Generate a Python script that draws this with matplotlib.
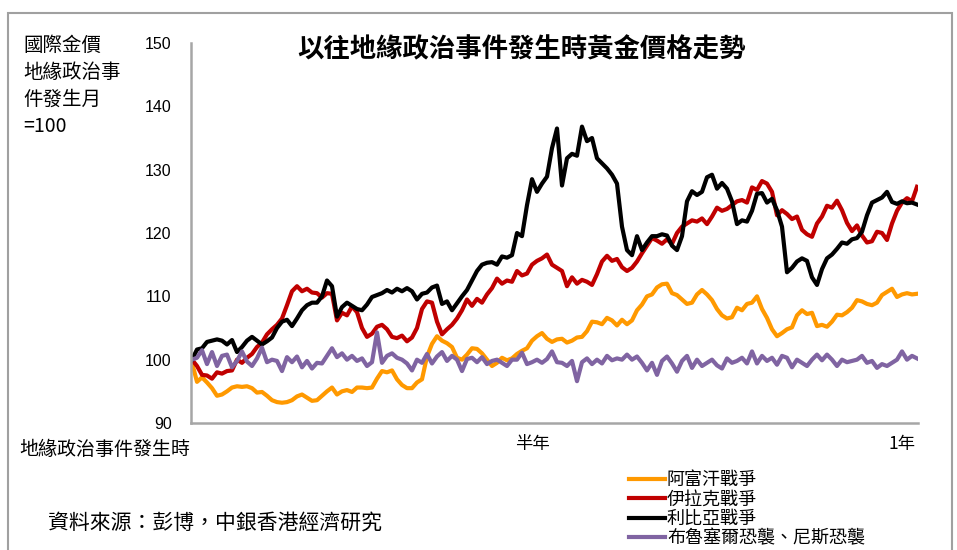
import matplotlib.pyplot as plt
import numpy as np
from matplotlib.patches import Rectangle

plt.rcParams['font.family'] = ['Noto Sans CJK TC', 'DejaVu Sans']

# 以往地緣政治事件發生時金價 (事件發生月=100), 每點約兩個交易日
afghan = [99.5, 96.5, 97.2, 96.4, 95.5, 94.3, 94.5, 95.0, 95.6, 95.8,
          95.7, 95.8, 95.5, 94.8, 94.9, 94.3, 93.6, 93.3, 93.2, 93.3,
          93.6, 94.2, 94.5, 94.0, 93.5, 93.6, 94.3, 95.0, 95.6, 94.5,
          95.0, 95.2, 94.9, 95.6, 95.6, 95.5, 95.6, 97.0, 98.2, 98.0,
          98.3, 96.9, 96.0, 95.5, 95.5, 96.4, 96.9, 100.5, 102.5, 103.7,
          103.0, 102.6, 102.0, 100.3, 100.0, 100.8, 101.8, 101.7, 101.0, 100.0,
          99.0, 99.5, 100.3, 99.9, 100.2, 100.9, 101.4, 101.8, 103.0, 103.7,
          104.2, 103.3, 102.8, 103.2, 103.3, 102.7, 103.0, 103.5, 103.6, 104.5,
          106.0, 105.9, 105.6, 106.6, 106.2, 105.4, 106.3, 105.6, 106.2, 107.8,
          108.7, 110.0, 110.3, 111.4, 111.9, 112.0, 110.5, 110.2, 109.5, 108.8,
          109.0, 110.3, 111.0, 110.3, 109.4, 108.0, 107.0, 106.5, 106.7, 108.2,
          107.8, 108.8, 109.0, 110.0, 108.0, 106.6, 104.8, 103.7, 104.2, 104.8,
          105.1, 107.0, 107.8, 107.2, 107.4, 105.3, 105.5, 105.2, 106.0, 107.1,
          107.0, 107.5, 108.2, 109.4, 109.2, 108.8, 108.6, 109.0, 110.2, 110.7,
          111.2, 109.9, 110.3, 110.5, 110.3, 110.4]

iraq = [100.0, 99.0, 97.6, 97.5, 97.0, 98.0, 97.8, 98.2, 98.3, 100.0,
        99.5, 100.3, 100.9, 102.0, 102.7, 104.0, 104.8, 105.5, 106.5, 108.6,
        110.8, 111.6, 110.8, 111.2, 110.6, 110.5, 109.8, 110.5, 110.4, 106.2,
        107.4, 107.0, 108.4, 107.5, 105.0, 103.6, 104.1, 105.2, 105.5, 104.8,
        103.6, 103.4, 103.8, 102.9, 103.5, 105.0, 108.0, 109.2, 109.0, 106.0,
        104.0, 104.8, 105.5, 106.5, 107.8, 109.5, 108.5, 109.6, 109.0, 110.3,
        111.3, 112.8, 112.0, 112.5, 112.3, 114.0, 113.3, 113.6, 115.0, 115.6,
        116.0, 116.6, 115.0, 114.5, 114.0, 111.6, 113.0, 112.0, 112.6, 112.3,
        111.8, 113.5, 115.5, 116.4, 115.6, 115.9, 114.6, 114.0, 114.5, 115.5,
        116.8, 118.0, 119.2, 118.8, 118.3, 119.0, 118.3, 120.0, 121.0, 121.5,
        122.0, 121.8, 122.3, 121.4, 122.6, 124.0, 123.5, 123.8, 124.4, 125.0,
        125.2, 124.8, 127.2, 126.8, 128.2, 127.8, 126.5, 122.8, 123.6, 123.0,
        122.2, 122.6, 120.5, 119.8, 119.4, 121.5, 122.6, 124.3, 124.0, 125.1,
        123.6, 121.6, 120.3, 121.2, 119.6, 118.5, 118.7, 120.2, 120.0, 118.9,
        121.5, 123.5, 124.8, 125.5, 125.0, 127.3]

libya = [100.0, 101.6, 101.8, 102.8, 103.0, 103.2, 103.0, 102.4, 103.1, 101.2,
         102.0, 103.0, 103.6, 103.0, 102.4, 102.9, 103.5, 105.0, 106.0, 106.3,
         105.3, 106.5, 107.8, 108.6, 109.0, 109.0, 110.0, 112.5, 111.6, 106.8,
         108.3, 109.0, 108.5, 108.0, 107.8, 108.7, 109.9, 110.2, 110.5, 111.0,
         110.6, 111.2, 110.8, 111.3, 110.8, 109.5, 110.4, 110.6, 111.4, 111.7,
         108.8, 109.2, 107.8, 108.9, 110.0, 111.0, 112.5, 114.0, 115.0, 115.3,
         115.4, 115.0, 116.3, 116.1, 116.5, 120.0, 119.5, 124.4, 128.5, 126.5,
         127.8, 128.9, 133.4, 136.5, 127.5, 131.8, 132.5, 132.2, 136.8, 134.5,
         135.0, 131.8, 131.0, 130.2, 129.2, 127.8, 121.0, 117.3, 116.5, 119.5,
         117.3, 118.5, 119.5, 119.5, 119.8, 119.6, 118.0, 117.3, 119.5, 125.0,
         126.6, 126.0, 126.5, 128.8, 129.2, 127.0, 127.9, 127.0, 125.0, 121.4,
         122.0, 121.8, 123.5, 126.2, 126.3, 124.8, 125.4, 123.6, 121.0, 113.8,
         114.5, 115.5, 116.0, 115.6, 113.0, 111.8, 114.3, 116.0, 116.6, 117.5,
         118.5, 118.3, 119.0, 119.2, 120.2, 122.8, 124.8, 125.2, 125.6, 126.5,
         124.9, 124.6, 125.0, 124.7, 124.8, 124.5]

brussels = [100.0, 100.3, 101.5, 99.3, 101.2, 99.0, 100.6, 100.8, 98.8, 99.8,
            101.3, 99.7, 99.0, 100.2, 101.9, 99.6, 100.0, 99.8, 98.2, 100.4,
            99.6, 100.5, 98.8, 99.8, 98.6, 99.5, 99.4, 100.6, 101.8, 100.4,
            101.0, 100.0, 100.6, 99.8, 100.2, 99.0, 99.6, 104.3, 99.5, 100.6,
            101.0, 100.3, 100.0, 99.4, 98.3, 100.0, 99.5, 100.9, 99.4, 100.5,
            101.2, 99.8, 100.6, 100.0, 98.2, 100.1, 100.3, 99.6, 100.4, 99.3,
            99.8, 100.0, 99.5, 99.0, 100.0, 100.0, 101.1, 99.3, 99.6, 100.0,
            99.5, 100.1, 101.3, 99.6, 99.5, 99.0, 99.8, 96.6, 99.6, 100.2,
            99.3, 100.0, 99.4, 100.6, 99.9, 100.2, 100.0, 100.8, 100.0, 100.5,
            99.5, 98.3, 99.5, 97.6, 99.8, 100.5, 99.4, 98.1, 99.8, 100.6,
            98.7, 100.0, 99.0, 99.5, 100.0, 99.1, 98.6, 100.2, 99.5, 99.8,
            100.3, 99.4, 101.3, 99.4, 100.6, 99.8, 100.3, 99.2, 100.6, 100.3,
            98.8, 100.0, 99.5, 99.0, 100.0, 100.8, 99.9, 100.8, 100.0, 99.0,
            100.0, 99.6, 99.8, 100.0, 100.6, 99.5, 99.8, 98.7, 99.3, 99.0,
            99.5, 100.0, 101.3, 100.0, 100.6, 100.2]

names = ['阿富汗戰爭', '伊拉克戰爭', '利比亞戰爭', '布魯塞爾恐襲、尼斯恐襲']
colors = ['#FF9900', '#C00000', '#000000', '#8064A2']
x_ticks = [68, 142]
x_labels = ['半年', '1年']

fig = plt.figure(figsize=(9.57, 5.5), dpi=100)
ax = fig.add_axes([191 / 957, 127 / 550, 727 / 957, 380 / 550])

for s, name, c in zip([afghan, iraq, libya, brussels], names, colors):
    ax.plot(np.arange(len(s)), s, color=c, lw=3, label=name, solid_joinstyle='round')

ax.set_xlim(-0.2, 145.2)
ax.set_ylim(90, 150)
ax.set_yticks(range(90, 151, 10))
ax.set_yticklabels([str(v) for v in range(90, 151, 10)], family='Liberation Sans', fontsize=11.5)
ax.set_xticks(x_ticks)
ax.set_xticklabels(x_labels, fontsize=12.5)
ax.tick_params(axis='y', length=0, pad=14)
ax.tick_params(axis='x', length=0, pad=9)
for sp in ['top', 'right']:
    ax.spines[sp].set_visible(False)
for sp in ['left', 'bottom']:
    ax.spines[sp].set_color('#A6A6A6')
    ax.spines[sp].set_linewidth(1.8)

fig.text(190 / 957, 1 - 449 / 550, '地緣政治事件發生時', ha='right', va='center', fontsize=13.7)
fig.text(23 / 957, 1 - 35 / 550, '國際金價\n地緣政治事\n件發生月\n=100', ha='left', va='top',
         fontsize=14, linespacing=1.38)
fig.text(521 / 957, 1 - 50 / 550, '以往地緣政治事件發生時黃金價格走勢', ha='center', va='center',
         fontsize=19, fontweight='bold')
fig.text(48 / 957, 1 - 523 / 550, '資料來源：彭博，中銀香港經濟研究', ha='left', va='center', fontsize=15)

fig.legend(loc='upper left', bbox_to_anchor=(620 / 957, 1 - 462 / 550), frameon=False,
           fontsize=13, borderpad=0, labelspacing=0.08, handlelength=2.0, handletextpad=0.1)

fig.patches.append(Rectangle((8 / 957, -0.1), 944 / 957, 1.1 - 13 / 550, transform=fig.transFigure,
                             fill=False, edgecolor='#A0A0A0', lw=1.5))

fig.savefig('out.png', dpi=100)
